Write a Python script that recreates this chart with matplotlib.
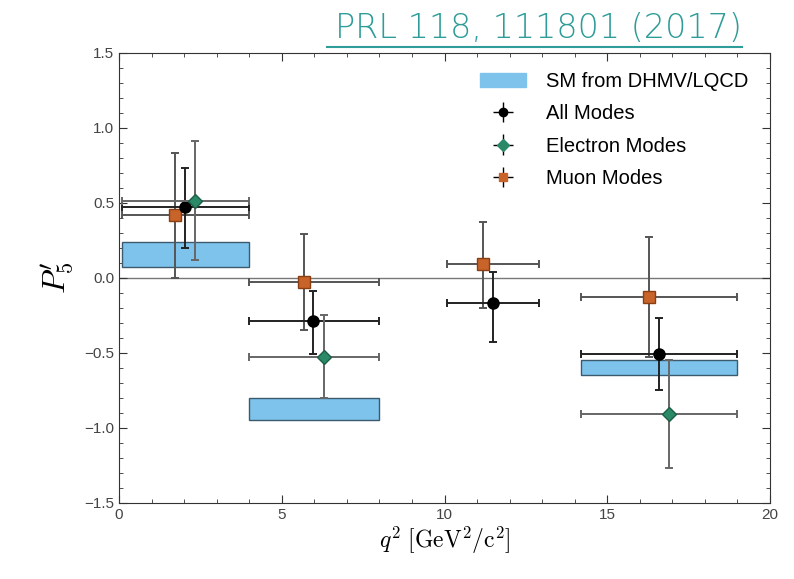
import matplotlib
matplotlib.use("Agg")
import matplotlib.pyplot as plt
from matplotlib.patches import Rectangle
from matplotlib.lines import Line2D
from matplotlib.ticker import MultipleLocator

plt.rcParams["mathtext.fontset"] = "cm"
plt.rcParams["font.family"] = ["Liberation Sans", "DejaVu Sans"]

# q^2 bins and SM prediction bands
sm_lo = [0.1, 4.0, 14.18]
sm_hi = [4.0, 8.0, 19.0]
sm_bottom = [0.07, -0.95, -0.65]
sm_top = [0.24, -0.80, -0.55]

# All modes
all_x = [2.03, 5.96, 11.49, 16.59]
all_xlo = [0.1, 4.0, 10.09, 14.18]
all_xhi = [4.0, 8.0, 12.9, 19.0]
all_y = [0.47, -0.29, -0.17, -0.51]
all_up = [0.73, -0.09, 0.04, -0.27]
all_dn = [0.20, -0.51, -0.43, -0.75]

# Electron modes
ele_x = [2.33, 6.30, 16.90]
ele_xlo = [0.1, 4.0, 14.18]
ele_xhi = [4.0, 8.0, 19.0]
ele_y = [0.51, -0.53, -0.91]
ele_up = [0.91, -0.25, -0.55]
ele_dn = [0.12, -0.80, -1.27]

# Muon modes
mu_x = [1.72, 5.68, 11.18, 16.28]
mu_xlo = [0.1, 4.0, 10.09, 14.18]
mu_xhi = [4.0, 8.0, 12.9, 19.0]
mu_y = [0.42, -0.03, 0.09, -0.13]
mu_up = [0.83, 0.29, 0.37, 0.27]
mu_dn = [0.00, -0.35, -0.20, -0.53]


def errs(x, xlo, xhi, y, up, dn):
    xerr = [[a - b for a, b in zip(x, xlo)], [b - a for a, b in zip(x, xhi)]]
    yerr = [[a - b for a, b in zip(y, dn)], [b - a for a, b in zip(y, up)]]
    return xerr, yerr


fig = plt.figure(figsize=(7.94, 5.79), dpi=100)
ax = fig.add_axes([0.1499, 0.1313, 0.8199, 0.7772])

ax.axhline(0, color="#777777", lw=1.0, zorder=1)

for lo, hi, b, t in zip(sm_lo, sm_hi, sm_bottom, sm_top):
    ax.add_patch(Rectangle((lo, b), hi - lo, t - b, facecolor="#7dc3ec",
                           edgecolor="#3c5a6e", lw=1.0, zorder=2))

xerr, yerr = errs(mu_x, mu_xlo, mu_xhi, mu_y, mu_up, mu_dn)
ax.errorbar(mu_x, mu_y, xerr=xerr, yerr=yerr, fmt="s", color="#c8632a",
            mec="#8a3e12", ms=8, ecolor="#555555", elinewidth=1.4,
            capsize=3, capthick=1.4, zorder=3)

xerr, yerr = errs(all_x, all_xlo, all_xhi, all_y, all_up, all_dn)
ax.errorbar(all_x, all_y, xerr=xerr, yerr=yerr, fmt="o", color="black",
            ms=8, ecolor="#222222", elinewidth=1.4,
            capsize=3, capthick=1.4, zorder=4)

xerr, yerr = errs(ele_x, ele_xlo, ele_xhi, ele_y, ele_up, ele_dn)
ax.errorbar(ele_x, ele_y, xerr=xerr, yerr=yerr, fmt="D", color="#2a8a68",
            mec="#1d5e47", ms=7.5, ecolor="#666666", elinewidth=1.4,
            capsize=3, capthick=1.4, zorder=5)

ax.set_xlim(0, 20)
ax.set_ylim(-1.5, 1.5)
ax.xaxis.set_major_locator(MultipleLocator(5))
ax.xaxis.set_minor_locator(MultipleLocator(1))
ax.yaxis.set_major_locator(MultipleLocator(0.5))
ax.yaxis.set_minor_locator(MultipleLocator(0.1))
ax.tick_params(which="both", direction="in", top=True, right=True,
               labelsize=11, labelcolor="#444444", color="#333333")
ax.tick_params(which="major", length=6)
ax.tick_params(which="minor", length=3)
for s in ax.spines.values():
    s.set_color("#333333")

ax.set_xlabel(r"$q^2\ [\mathrm{GeV}^2/\mathrm{c}^2]$", fontsize=17, labelpad=2)
ax.set_ylabel(r"$P_5'$", fontsize=23, labelpad=6)

# legend
sm_handle = Rectangle((0, 0), 1, 1, facecolor="#7dc3ec", edgecolor="#7dc3ec")
h_all = ax.errorbar([], [], xerr=[], yerr=[], fmt="o", color="black", ms=6,
                    ecolor="black", capsize=2, elinewidth=1)
h_ele = ax.errorbar([], [], xerr=[], yerr=[], fmt="D", color="#2a8a68", ms=6,
                    ecolor="black", capsize=2, elinewidth=1)
h_mu = ax.errorbar([], [], xerr=[], yerr=[], fmt="s", color="#c8632a", ms=6,
                   ecolor="black", capsize=2, elinewidth=1)
ax.legend([sm_handle, h_all, h_ele, h_mu],
          ["SM from DHMV/LQCD", "All Modes", "Electron Modes", "Muon Modes"],
          loc="upper right", frameon=False, fontsize=14.5, labelspacing=0.66,
          handlelength=2.3, handletextpad=1.0, borderaxespad=0.5,
          bbox_to_anchor=(0.995, 0.998))

# reference tag above the plot
fig.text(0.934, 0.951, "PRL 118, 111801 (2017)", ha="right", va="center",
         fontsize=24, color="#2e9c98", family=["DejaVu Sans"],
         fontweight="light")
fig.add_artist(Line2D([0.412, 0.934], [0.919, 0.919], color="#2e9c98",
                      lw=1.5, transform=fig.transFigure))

fig.savefig("out.png", dpi=100)
